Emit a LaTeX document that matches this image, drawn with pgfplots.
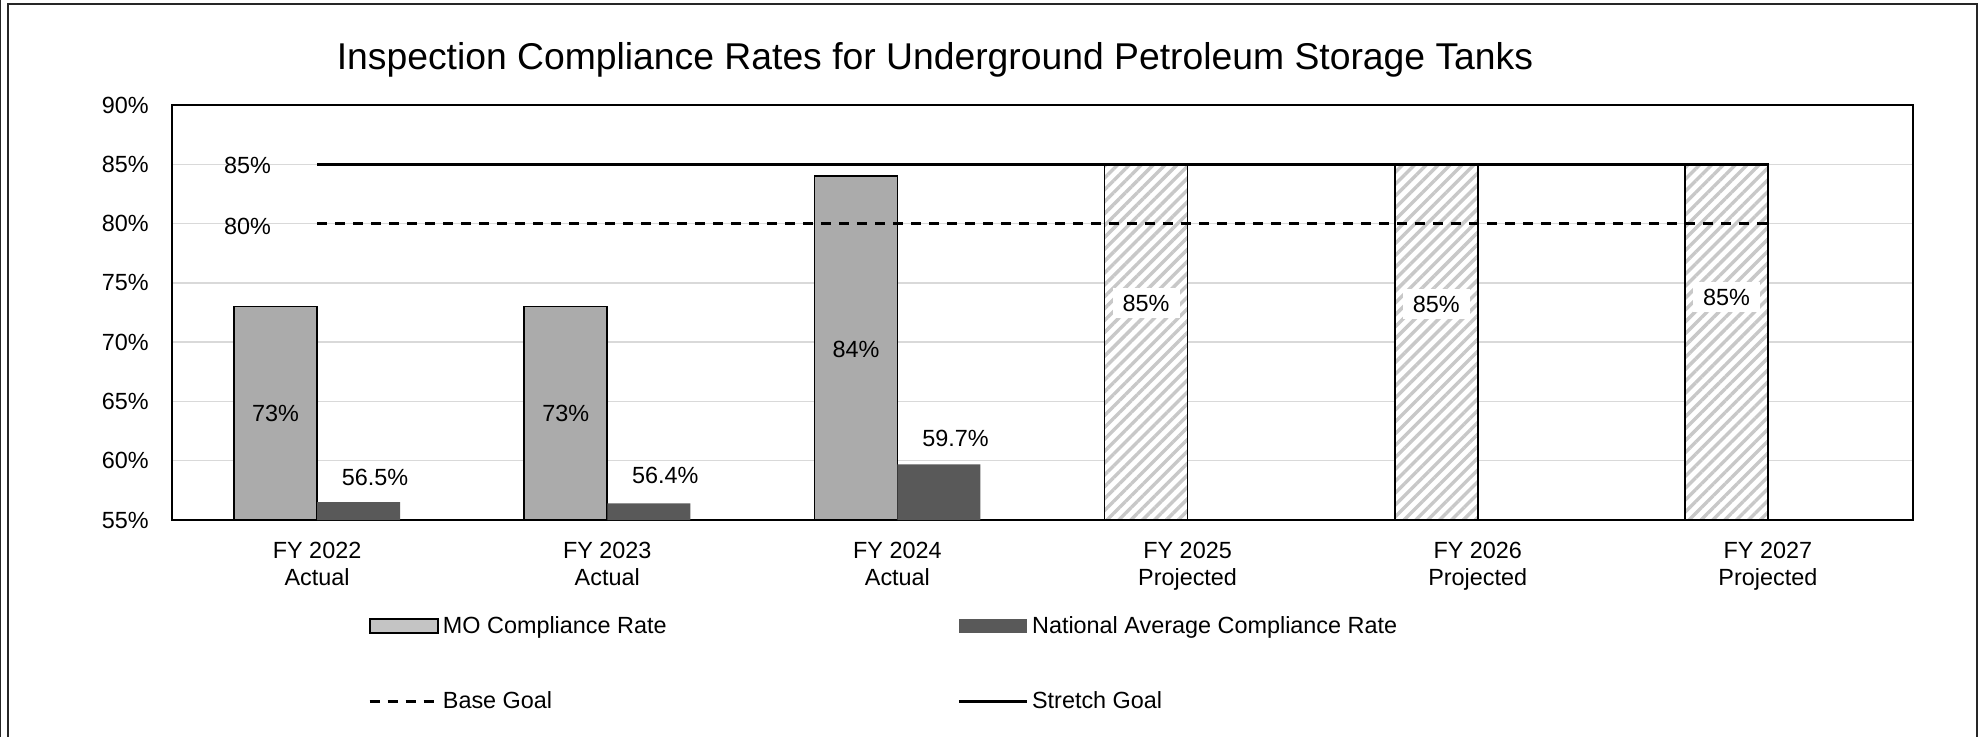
\documentclass[border=0pt]{standalone}
\usepackage{pgfplots}
\pgfplotsset{compat=1.18}
\usetikzlibrary{patterns.meta}
\usepackage{fontspec}
\setmainfont{Liberation Sans}
\definecolor{mogray}{HTML}{ABABAB}
\definecolor{natgray}{HTML}{595959}
\definecolor{hatchgray}{HTML}{C8C8C8}
\definecolor{gridgray}{HTML}{D9D9D9}
\newcommand{\lblfont}{\fontsize{11.7}{13.3}\selectfont}
\begin{document}
\begin{tikzpicture}
\useasboundingbox (0,0) rectangle (990.5pt,368pt);
\draw[line width=1pt, black!85] (4pt,-10pt) rectangle (988.5pt,366pt);
\draw[line width=0.6pt, black!85] (0.3pt,-1pt) -- (0.3pt,369pt);
\node[font=\fontsize{18.65}{22}\selectfont] at (467.5pt,338pt) {Inspection Compliance Rates for Underground Petroleum Storage Tanks};
\begin{axis}[
  at={(86pt,108pt)}, anchor=south west,
  scale only axis, width=870.5pt, height=207.5pt,
  xmin=-0.5, xmax=5.5, ymin=55, ymax=90,
  xtick={0,1,2,3,4,5}, ytick={55,60,...,90},
  xticklabels={{FY 2022\\Actual},{FY 2023\\Actual},{FY 2024\\Actual},{FY 2025\\Projected},{FY 2026\\Projected},{FY 2027\\Projected}},
  major tick length=0pt,
  ymajorgrids, grid style={draw=gridgray, line width=0.75pt},
  axis line style={line width=0.9pt},
  /pgf/number format/assume math mode=true,
  yticklabel={\pgfmathprintnumber{\tick}\%},
  yticklabel style={font=\lblfont, inner sep=0pt, xshift=-11.5pt},
  xticklabel style={font=\lblfont, align=center, inner sep=0pt, yshift=-11pt},
  legend columns=2, legend cell align=left,
  legend style={at={(axis description cs:0.1126,-0.2217)}, anchor=north west,
    draw=none, inner sep=0pt, font=\lblfont, row sep=23.7pt,
    /tikz/every even column/.append style={column sep=143.5pt}},
]
\addplot[ybar, bar width=41.5pt, bar shift=-20.75pt, fill=mogray, draw=black, line width=0.9pt,
  legend image code/.code={\draw[fill=mogray!70, draw=black, line width=0.9pt] (0pt,-3.5pt) rectangle (34pt,3.5pt);}]
  coordinates {(0,73) (1,73) (2,84)};
\addlegendentry{MO Compliance Rate}
\addplot[ybar, bar width=41.5pt, bar shift=20.75pt, fill=natgray, draw=none,
  legend image code/.code={\fill[natgray] (0pt,-3.5pt) rectangle (34pt,3.5pt);}]
  coordinates {(0,56.5) (1,56.4) (2,59.7)};
\addlegendentry{National Average Compliance Rate}
\addplot[ybar, bar width=41.5pt, bar shift=-20.75pt, fill=white, draw=black, line width=0.9pt, forget plot,
  postaction={pattern={Lines[angle=45, distance=4.2pt, line width=1.7pt]}, pattern color=hatchgray}]
  coordinates {(3,85) (4,85) (5,85)};
\addplot[black, line width=1.25pt, dash pattern=on 5pt off 4pt, mark=none,
  legend image code/.code={\draw[black, line width=1.25pt, dash pattern=on 5pt off 4pt] (0pt,0pt) -- (34pt,0pt);}]
  coordinates {(0,80) (5,80)};
\addlegendentry{Base Goal}
\addplot[black, line width=1.25pt, mark=none,
  legend image code/.code={\draw[black, line width=1.25pt] (0pt,0pt) -- (34pt,0pt);}]
  coordinates {(0,85) (5,85)};
\addlegendentry{Stretch Goal}
% data labels
\addplot[draw=none, mark=none, forget plot, nodes near coords, point meta=explicit symbolic,
  every node near coord/.append style={anchor=center, font=\lblfont, inner sep=0pt}]
  coordinates {(-0.143,64) [73\%] (0.857,64) [73\%] (1.857,69.4) [84\%]
               (0.2,58.6) [56.5\%] (1.2,58.8) [56.4\%] (2.2,61.9) [59.7\%]
               (-0.24,84.9) [85\%] (-0.24,79.8) [80\%]};
\addplot[draw=none, mark=none, forget plot, nodes near coords, point meta=explicit symbolic,
  every node near coord/.append style={anchor=center, font=\lblfont, fill=white, inner xsep=5pt, inner ysep=3.5pt}]
  coordinates {(2.857,73.3) [85\%] (3.857,73.2) [85\%] (4.857,73.8) [85\%]};
\end{axis}
\end{tikzpicture}
\end{document}
